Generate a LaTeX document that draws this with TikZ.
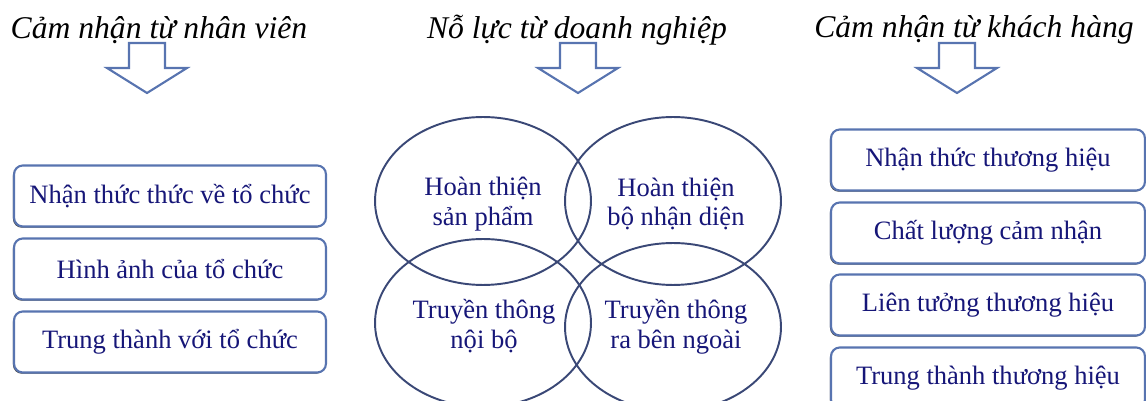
\documentclass[tikz,border=0pt]{standalone}
\usepackage{fontspec}
\setmainfont{Liberation Serif}
\usepackage{xcolor}
\usetikzlibrary{shapes.geometric,shadows}
\definecolor{ink}{RGB}{22,22,120}
\definecolor{rim}{RGB}{88,116,176}
\definecolor{ring}{RGB}{58,72,118}

\begin{document}
\begin{tikzpicture}[x=0.02cm, y=-0.02cm,
  font=\fontsize{15.1}{17}\selectfont,
  hd/.style={font=\fontsize{18}{20}\selectfont\itshape, inner sep=0pt},
  bx/.style={draw=rim, line width=1.2pt, rounded corners=5pt, fill=white,
    text=ink, minimum height=1.22cm,
    drop shadow={shadow xshift=-0.6pt, shadow yshift=-0.7pt, fill=black!75, opacity=1}},
  lb/.style={bx, minimum width=6.24cm},
  rb/.style={bx, minimum width=6.28cm},
  ov/.style={ellipse, draw=ring, line width=1.1pt, text=ink, align=center,
    minimum width=4.32cm, minimum height=3.36cm, inner sep=0pt},
  blk/.style={draw=rim, line width=1.2pt, fill=white, line join=miter}]
\useasboundingbox (0,0) rectangle (1146,401);
\clip (0,0) rectangle (1146,401);
\node[hd] (h1) at (159,30) {Cảm nhận từ nhân viên};
\node[hd] (h2) at (577,30) {Nỗ lực từ doanh nghiệp};
\node[hd] (h3) at (974,30) {Cảm nhận từ khách hàng};
\draw[blk, shift={(147,43)}] (-18,0) -- (18,0) -- (18,25) -- (40,25) -- (0,50) -- (-40,25) -- (-18,25) -- cycle;
\draw[blk, shift={(578,43)}] (-18,0) -- (18,0) -- (18,25) -- (40,25) -- (0,50) -- (-40,25) -- (-18,25) -- cycle;
\draw[blk, shift={(957,43)}] (-18,0) -- (18,0) -- (18,25) -- (40,25) -- (0,50) -- (-40,25) -- (-18,25) -- cycle;
\node[lb] (e1) at (170,196) {Nhận thức thức về tổ chức};
\node[lb] (e2) at (170,269) {Hình ảnh của tổ chức};
\node[lb] (e3) at (170,342) {Trung thành với tổ chức};
\node[ov] (sp) at (483,201) {};
\node[ov] (nd) at (673,201) {};
\node[ov] (nb) at (483,323) {};
\node[ov] (bn) at (673,327) {};
\node[text=ink, align=center] (tsp) at (483,204) {Hoàn thiện\\sản phẩm};
\node[text=ink, align=center] (tnd) at (676,204) {Hoàn thiện\\bộ nhận diện};
\node[text=ink, align=center] (tnb) at (484,326) {Truyền thông\\nội bộ};
\node[text=ink, align=center] (tbn) at (676,327) {Truyền thông\\ra bên ngoài};
\node[rb] (k1) at (988,160) {Nhận thức thương hiệu};
\node[rb] (k2) at (988,233) {Chất lượng cảm nhận};
\node[rb] (k3) at (988,305) {Liên tưởng thương hiệu};
\node[rb] (k4) at (988,378) {Trung thành thương hiệu};
\end{tikzpicture}
\end{document}
